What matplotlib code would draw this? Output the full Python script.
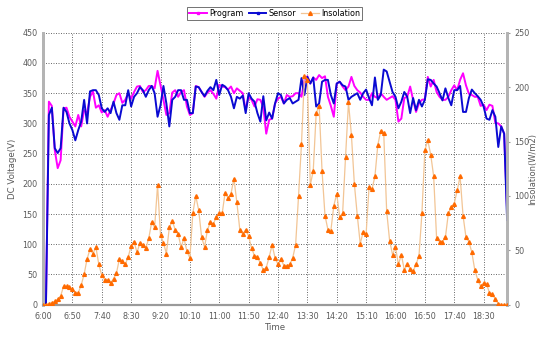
import numpy as np
import pandas as pd
import matplotlib
matplotlib.use("Agg")
import matplotlib.pyplot as plt
from matplotlib.lines import Line2D

# 5-minute samples, 6:00 .. 19:10
times = [t.strftime("%H:%M").lstrip("0") for t in
         pd.date_range("2000-01-01 06:00", periods=159, freq="5min")]

program = [
    0, 0, 336, 329, 256, 226, 239, 325, 326, 311, 303, 295, 314, 295, 322, 317, 344, 353, 326, 330,
    318, 322, 311, 322, 333, 347, 350,
    334, 339, 350, 341, 352, 361, 362, 352, 355, 362, 362, 358, 387, 363, 339, 314, 317, 351, 355, 344,
    352, 355, 328, 314, 317, 362, 360, 352, 344, 351, 355, 349, 341, 364, 361, 360, 356, 361, 350, 358,
    354, 350, 322, 344, 339, 328, 340, 339, 327, 283, 306,
    308, 333, 341, 344, 333, 347, 344, 345, 350, 350, 344, 372, 378, 366, 376, 372, 380, 375, 378, 344,
    329, 311, 366, 369, 361, 355, 361, 377, 362, 355, 351, 344, 339, 339, 350, 344, 342, 350, 344, 339,
    342, 345, 339, 303, 308, 342, 344, 361, 339, 319, 333, 339, 340, 377, 361, 372, 352, 344, 339, 339,
    344, 355, 363, 355, 372, 383, 363, 349, 347, 344, 344, 329, 331, 322, 331, 329, 301, 300, 295, 283,
    157,
]

sensor = [
    0, 0, 314, 326, 259, 251, 259, 326, 319, 300, 289, 272, 289, 303, 339, 300, 353, 355, 355, 347,
    325, 319, 325, 317, 336, 317, 306,
    330, 330, 355, 328, 344, 350, 360, 355, 344, 355, 362, 350, 311, 330, 362, 333, 295, 339, 344, 355,
    355, 339, 339, 317, 317, 361, 360, 352, 345, 354, 360, 355, 372, 347, 364, 361, 355, 344, 325, 344,
    341, 346, 317, 350, 341, 336, 317, 303, 345, 305, 318,
    308, 333, 350, 347, 333, 339, 342, 333, 336, 339, 375, 347, 377, 366, 376, 328, 333, 369, 372, 372,
    347, 333, 366, 369, 363, 361, 339, 344, 347, 350, 339, 350, 356, 342, 330, 376, 339, 347, 389, 386,
    369, 352, 344, 325, 336, 352, 344, 317, 342, 322, 339, 328, 339, 373, 372, 366, 361, 350, 338, 358,
    342, 330, 355, 355, 362, 319, 319, 342, 356, 350, 345, 339, 328, 308, 306, 322, 311, 261, 295, 283,
    140,
]

# W/m2 (right axis)
insolation = [
    0, 0, 1, 2, 3, 5, 8, 17, 17, 16, 14, 11, 11, 18, 28, 42, 51, 47, 53, 37,
    27, 23, 23, 20, 24, 29, 42, 40, 37, 44, 54, 58, 48, 57, 55, 52, 61, 76, 71, 110,
    64, 57, 47, 71, 77, 69, 65, 53, 61, 49, 43,
    84, 100, 87, 62, 53, 69, 76, 74, 81, 84, 84, 103, 98, 102, 116, 94, 69, 65, 69, 63,
    52, 45, 44, 38, 32, 34, 44, 55, 43,
    37, 42, 36, 36, 37, 43, 55, 100, 148, 210, 207, 110, 123, 176, 183, 123, 82, 69, 68, 91,
    102, 81, 84, 136, 186, 156,
    111, 82, 56, 67, 65, 108, 106, 118, 147, 160, 158, 86, 59, 46, 53, 37, 46, 32, 37, 33,
    31, 37, 45, 84, 142, 151, 138,
    118, 61, 58, 58, 62, 84, 90, 93, 105, 118, 82, 62, 58, 48, 32, 23, 17, 20, 19, 11,
    10, 5, 1, 0, 0, 0,
]

tick_labels = ["6:00", "6:50", "7:40", "8:30", "9:20", "10:10", "11:00", "11:50",
               "12:40", "13:30", "14:20", "15:10", "16:00", "16:50", "17:40", "18:30"]

MAGENTA = "#ff00ff"
BLUE = "#0a0ad2"
ORANGE_LINE = "#f2c595"
ORANGE_MK = "#ff6a00"
TXT = "#5a5a5a"

x = np.arange(len(times))

fig = plt.figure(figsize=(5.39, 3.37), dpi=100)
ax = fig.add_axes([0.0798, 0.0958, 0.861, 0.807])
ax2 = ax.twinx()

ax.plot(x, program, color=MAGENTA, lw=1.4, zorder=3)
ax.plot(x, sensor, color=BLUE, lw=1.4, zorder=4)
ax2.plot(x, insolation, color=ORANGE_LINE, lw=0.9, marker="^", ms=2.7,
         mfc=ORANGE_MK, mec=ORANGE_MK, zorder=5)

ax.set_xlim(0, len(times) - 1)
ax.set_ylim(0, 450)
ax2.set_ylim(0, 250)
ax.set_yticks(np.arange(0, 451, 50))
ax2.set_yticks(np.arange(0, 251, 50))
ax.set_xticks([times.index(t) for t in tick_labels])
ax.set_xticklabels(tick_labels)

ax.grid(True, color="#555555", lw=0.6, linestyle=(0, (1.2, 1.8)))
ax.set_axisbelow(True)

for a in (ax, ax2):
    a.spines["top"].set_visible(False)
    a.spines["left"].set_color("#b4b4b4")
    a.spines["left"].set_linewidth(2)
    a.spines["right"].set_color("#b4b4b4")
    a.spines["right"].set_linewidth(2)
    a.spines["bottom"].set_color("#9a9a9a")
    a.spines["bottom"].set_linewidth(1.5)

ax.tick_params(axis="both", length=0, labelsize=5.8, labelcolor=TXT, pad=4)
ax.tick_params(axis="x", pad=5)
ax2.tick_params(axis="y", length=2, color="#999999", labelsize=5.8, labelcolor=TXT, pad=3)

ax.set_xlabel("Time", fontsize=6.2, color=TXT, labelpad=2)
ax.set_ylabel("DC Voltage(V)", fontsize=6.2, color=TXT, labelpad=4)
ax2.set_ylabel("Insolation(W/m2)", fontsize=6.0, color=TXT)
ax2.yaxis.set_label_coords(1.045, 0.5)

handles = [
    Line2D([], [], color=MAGENTA, lw=1.4, marker="s", ms=1.6, label="Program"),
    Line2D([], [], color=BLUE, lw=1.4, marker="s", ms=1.6, label="Sensor"),
    Line2D([], [], color=ORANGE_LINE, lw=0.9, marker="^", ms=2.7,
           mfc=ORANGE_MK, mec=ORANGE_MK, label="Insolation"),
]
leg = fig.legend(handles=handles, loc="center", bbox_to_anchor=(0.51, 0.96), ncol=3,
                 fontsize=5.8, frameon=True, fancybox=False, borderpad=0.25,
                 handlelength=2.2, handletextpad=0.3, columnspacing=0.6)
leg.get_frame().set_edgecolor("#333333")
leg.get_frame().set_linewidth(0.6)

fig.savefig("out.png", dpi=100)
